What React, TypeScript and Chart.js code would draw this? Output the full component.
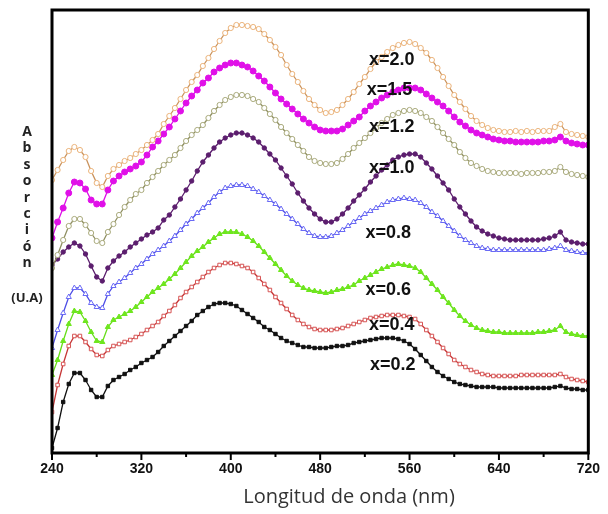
import { useEffect, useRef } from "react";
import { Chart, registerables } from "chart.js";

Chart.register(...registerables);

// Wavelength grid (nm), 5 nm step from 240 to 720
const wavelengths: number[] = Array.from({ length: 97 }, (_, i) => 240 + 5 * i);
const xTickLabels = [240, 320, 400, 480, 560, 640, 720];

// Absorbance (a.u.), 240..720 nm every 5 nm
const x20 = [
  2.73, 2.83, 2.93, 3.02, 3.06, 3.03, 2.96, 2.82, 2.70, 2.66,
  2.77, 2.84, 2.88, 2.92, 2.95, 2.99, 3.03, 3.08, 3.13, 3.19,
  3.29, 3.37, 3.45, 3.54, 3.63, 3.71, 3.78, 3.87, 3.95, 4.04,
  4.12, 4.20, 4.25, 4.28, 4.28, 4.27, 4.26, 4.24, 4.19, 4.13,
  4.06, 3.98, 3.88, 3.79, 3.71, 3.62, 3.54, 3.48, 3.43, 3.40,
  3.41, 3.43, 3.48, 3.54, 3.61, 3.69, 3.76, 3.84, 3.91, 3.96,
  4.01, 4.05, 4.08, 4.10, 4.11, 4.09, 4.05, 4.00, 3.93, 3.85,
  3.76, 3.67, 3.58, 3.51, 3.44, 3.37, 3.32, 3.28, 3.25, 3.23,
  3.22, 3.21, 3.21, 3.22, 3.21, 3.22, 3.21, 3.22, 3.22, 3.22,
  3.26, 3.29, 3.21, 3.19, 3.18, 3.17, 3.16,
];
const x15 = [
  2.15, 2.31, 2.45, 2.60, 2.71, 2.70, 2.64, 2.53, 2.49, 2.49,
  2.63, 2.72, 2.77, 2.81, 2.84, 2.87, 2.91, 2.98, 3.06, 3.12,
  3.19, 3.26, 3.34, 3.42, 3.50, 3.57, 3.63, 3.70, 3.75, 3.81,
  3.85, 3.88, 3.90, 3.90, 3.88, 3.86, 3.82, 3.77, 3.72, 3.66,
  3.60, 3.54, 3.49, 3.44, 3.39, 3.34, 3.30, 3.26, 3.23, 3.22,
  3.22, 3.22, 3.24, 3.28, 3.32, 3.36, 3.42, 3.47, 3.51, 3.55,
  3.58, 3.61, 3.63, 3.65, 3.65, 3.65, 3.63, 3.59, 3.55, 3.51,
  3.47, 3.42, 3.36, 3.31, 3.27, 3.23, 3.20, 3.18, 3.16, 3.14,
  3.13, 3.12, 3.12, 3.11, 3.11, 3.11, 3.11, 3.11, 3.12, 3.12,
  3.13, 3.16, 3.12, 3.10, 3.09, 3.08, 3.08,
];
const x12 = [
  1.85, 1.98, 2.13, 2.27, 2.34, 2.34, 2.28, 2.20, 2.12, 2.10,
  2.21, 2.29, 2.38, 2.46, 2.53, 2.59, 2.63, 2.70, 2.76, 2.82,
  2.88, 2.93, 2.98, 3.05, 3.12, 3.18, 3.23, 3.28, 3.35, 3.42,
  3.48, 3.53, 3.56, 3.58, 3.58, 3.57, 3.54, 3.51, 3.45, 3.39,
  3.33, 3.26, 3.20, 3.14, 3.08, 3.02, 2.96, 2.92, 2.90, 2.89,
  2.89, 2.90, 2.94, 2.99, 3.05, 3.10, 3.15, 3.20, 3.25, 3.30,
  3.34, 3.38, 3.40, 3.42, 3.43, 3.42, 3.40, 3.36, 3.32, 3.26,
  3.20, 3.14, 3.08, 3.01, 2.95, 2.90, 2.87, 2.84, 2.82, 2.81,
  2.80, 2.80, 2.80, 2.80, 2.79, 2.80, 2.80, 2.80, 2.81, 2.81,
  2.82, 2.86, 2.81, 2.79, 2.78, 2.77, 2.76,
];
const x10 = [
  1.88, 1.94, 2.01, 2.06, 2.10, 2.07, 1.99, 1.87, 1.76, 1.72,
  1.85, 1.92, 1.97, 2.01, 2.06, 2.10, 2.14, 2.18, 2.21, 2.25,
  2.33, 2.38, 2.46, 2.54, 2.63, 2.72, 2.82, 2.91, 2.98, 3.05,
  3.11, 3.15, 3.18, 3.20, 3.20, 3.18, 3.15, 3.11, 3.05, 2.99,
  2.93, 2.85, 2.77, 2.69, 2.60, 2.52, 2.45, 2.39, 2.34, 2.31,
  2.31, 2.34, 2.39, 2.45, 2.52, 2.58, 2.64, 2.71, 2.77, 2.83,
  2.88, 2.93, 2.96, 2.98, 2.99, 2.99, 2.96, 2.90, 2.84, 2.77,
  2.70, 2.63, 2.54, 2.46, 2.39, 2.32, 2.26, 2.22, 2.19, 2.17,
  2.15, 2.14, 2.13, 2.13, 2.13, 2.13, 2.13, 2.13, 2.14, 2.15,
  2.17, 2.21, 2.13, 2.11, 2.10, 2.09, 2.09,
];
const x08 = [
  1.05, 1.23, 1.40, 1.56, 1.65, 1.65, 1.59, 1.50, 1.46, 1.45,
  1.59, 1.67, 1.71, 1.75, 1.80, 1.85, 1.89, 1.94, 1.99, 2.03,
  2.07, 2.12, 2.17, 2.23, 2.29, 2.34, 2.40, 2.45, 2.50, 2.56,
  2.61, 2.65, 2.67, 2.68, 2.68, 2.67, 2.64, 2.61, 2.57, 2.53,
  2.49, 2.44, 2.39, 2.34, 2.29, 2.24, 2.20, 2.17, 2.16, 2.16,
  2.17, 2.20, 2.23, 2.27, 2.31, 2.35, 2.39, 2.42, 2.45, 2.48,
  2.51, 2.53, 2.54, 2.55, 2.54, 2.53, 2.50, 2.46, 2.41, 2.37,
  2.32, 2.27, 2.22, 2.17, 2.13, 2.10, 2.07, 2.05, 2.04, 2.03,
  2.03, 2.03, 2.03, 2.03, 2.03, 2.03, 2.03, 2.03, 2.03, 2.04,
  2.05, 2.07, 2.03, 2.02, 2.01, 2.00, 2.00,
];
const x06 = [
  0.78, 0.93, 1.12, 1.29, 1.42, 1.41, 1.32, 1.21, 1.12, 1.11,
  1.26, 1.33, 1.36, 1.39, 1.42, 1.46, 1.51, 1.56, 1.61, 1.65,
  1.69, 1.74, 1.79, 1.85, 1.91, 1.97, 2.02, 2.06, 2.11, 2.15,
  2.19, 2.21, 2.21, 2.21, 2.19, 2.16, 2.12, 2.07, 2.01, 1.95,
  1.89, 1.83, 1.77, 1.72, 1.68, 1.65, 1.63, 1.62, 1.61, 1.60,
  1.61, 1.63, 1.64, 1.66, 1.68, 1.72, 1.75, 1.78, 1.81, 1.84,
  1.86, 1.88, 1.89, 1.88, 1.87, 1.85, 1.81, 1.75, 1.69, 1.63,
  1.56, 1.50, 1.43, 1.37, 1.32, 1.28, 1.25, 1.23, 1.22, 1.21,
  1.21, 1.20, 1.20, 1.20, 1.20, 1.20, 1.20, 1.21, 1.21, 1.22,
  1.23, 1.27, 1.21, 1.19, 1.18, 1.17, 1.17,
];
const x04 = [
  0.41, 0.68, 0.89, 1.07, 1.17, 1.17, 1.11, 1.04, 0.98, 0.97,
  1.03, 1.07, 1.09, 1.11, 1.13, 1.16, 1.19, 1.23, 1.27, 1.31,
  1.37, 1.42, 1.48, 1.55, 1.61, 1.66, 1.71, 1.76, 1.81, 1.85,
  1.88, 1.90, 1.90, 1.89, 1.87, 1.85, 1.81, 1.75, 1.69, 1.63,
  1.56, 1.50, 1.44, 1.38, 1.33, 1.29, 1.26, 1.24, 1.23, 1.23,
  1.23, 1.24, 1.25, 1.27, 1.29, 1.31, 1.33, 1.35, 1.36, 1.37,
  1.38, 1.38, 1.38, 1.37, 1.36, 1.34, 1.29, 1.23, 1.17, 1.11,
  1.05, 0.99, 0.93, 0.89, 0.86, 0.83, 0.81, 0.79, 0.78, 0.77,
  0.77, 0.77, 0.77, 0.77, 0.78, 0.78, 0.78, 0.78, 0.78, 0.78,
  0.78, 0.79, 0.76, 0.74, 0.73, 0.72, 0.71,
];
const x02 = [
  0.05, 0.25, 0.51, 0.69, 0.80, 0.80, 0.73, 0.63, 0.56, 0.56,
  0.67, 0.73, 0.76, 0.79, 0.83, 0.86, 0.90, 0.93, 0.96, 1.01,
  1.07, 1.12, 1.17, 1.22, 1.27, 1.32, 1.38, 1.42, 1.46, 1.49,
  1.50, 1.50, 1.49, 1.47, 1.43, 1.39, 1.35, 1.31, 1.26, 1.23,
  1.19, 1.15, 1.12, 1.10, 1.08, 1.06, 1.06, 1.05, 1.05, 1.05,
  1.06, 1.07, 1.07, 1.08, 1.10, 1.11, 1.12, 1.13, 1.14, 1.15,
  1.15, 1.15, 1.14, 1.12, 1.09, 1.04, 0.98, 0.92, 0.86, 0.81,
  0.77, 0.74, 0.71, 0.69, 0.68, 0.67, 0.66, 0.66, 0.66, 0.66,
  0.65, 0.65, 0.65, 0.65, 0.65, 0.65, 0.65, 0.65, 0.65, 0.65,
  0.66, 0.67, 0.65, 0.64, 0.64, 0.63, 0.63,
];

const seriesLabels = ["x=2.0", "x=1.5", "x=1.2", "x=1.0", "x=0.8", "x=0.6", "x=0.4", "x=0.2"];
// label anchor positions (nm, a.u.)
const labelNm = [544, 542, 544, 544, 541, 541, 544, 545];
const labelAu = [3.93, 3.63, 3.26, 2.85, 2.20, 1.63, 1.28, 0.88];

const xTitle = "Longitud de onda (nm)";
const yTitleLetters = ["A", "b", "s", "o", "r", "c", "i", "ó", "n"];
const yTitleUnit = "(U.A)";

function toPoints(values: number[]) {
  const n = Math.min(values.length, wavelengths.length);
  const out: { x: number; y: number }[] = [];
  for (let i = 0; i < n; i++) out.push({ x: wavelengths[i], y: values[i] });
  return out;
}

export default function App() {
  const ref = useRef<HTMLCanvasElement | null>(null);

  useEffect(() => {
    if (!ref.current) return;

    const styles = [
      { data: x20, line: "#c9925c", point: "#ebb47c", fill: "#ffffff", style: "circle", r: 2.6 },
      { data: x15, line: "#dd10e6", point: "#e010e8", fill: "#e010e8", style: "circle", r: 3 },
      { data: x12, line: "#8f8f62", point: "#a9aa7c", fill: "#ffffff", style: "circle", r: 2.6 },
      { data: x10, line: "#5a1c6c", point: "#5c1e6e", fill: "#5c1e6e", style: "circle", r: 2.2 },
      { data: x08, line: "#4d4de6", point: "#6a6af5", fill: "#ffffff", style: "triangle", r: 3 },
      { data: x06, line: "#66dd18", point: "#6ee61e", fill: "#6ee61e", style: "triangle", r: 3 },
      { data: x04, line: "#c63636", point: "#d65252", fill: "#ffffff", style: "rect", r: 2.5 },
      { data: x02, line: "#111111", point: "#111111", fill: "#111111", style: "rect", r: 2.4 },
    ];

    const decor = {
      id: "decor",
      afterDraw(chart: any) {
        const { ctx, chartArea, scales } = chart;
        const xs = scales.x;
        const ys = scales.y;
        ctx.save();
        // frame
        ctx.strokeStyle = "#000";
        ctx.lineWidth = 3;
        ctx.strokeRect(chartArea.left, chartArea.top, chartArea.right - chartArea.left, chartArea.bottom - chartArea.top);
        // ticks
        ctx.lineWidth = 2;
        for (let v = 240; v <= 720; v += 40) {
          const px = xs.getPixelForValue(v);
          const major = (v - 240) % 80 === 0;
          ctx.beginPath();
          ctx.moveTo(px, chartArea.bottom);
          ctx.lineTo(px, chartArea.bottom + (major ? 7 : 4));
          ctx.stroke();
        }
        // series labels
        ctx.fillStyle = "#111";
        ctx.font = 'bold 18px Arial, "Liberation Sans", sans-serif';
        ctx.textAlign = "center";
        ctx.textBaseline = "middle";
        for (let i = 0; i < seriesLabels.length; i++) {
          ctx.fillText(seriesLabels[i], xs.getPixelForValue(labelNm[i]), ys.getPixelForValue(labelAu[i]));
        }
        // x title
        ctx.fillStyle = "#333";
        ctx.font = '20px "Open Sans", sans-serif';
        ctx.fillText(xTitle, 349, 497);
        // y title stacked letters
        ctx.fillStyle = "#222";
        ctx.font = 'bold 14px "Open Sans", sans-serif';
        const cx = 27;
        let y = 132;
        for (const ch of yTitleLetters) {
          ctx.fillText(ch, cx, y);
          y += 16.4;
        }
        ctx.font = 'bold 13px "Open Sans", sans-serif';
        ctx.fillText(yTitleUnit, cx, 298);
        ctx.restore();
      },
    };

    const chart = new Chart(ref.current, {
      type: "line",
      data: {
        datasets: styles.map((s, i) => ({
          label: seriesLabels[i],
          data: toPoints(s.data),
          borderColor: s.line,
          borderWidth: 1.3,
          pointStyle: s.style as any,
          pointRadius: s.r,
          pointBorderWidth: 1,
          pointBorderColor: s.point,
          pointBackgroundColor: s.fill,
          tension: 0,
          fill: false,
        })),
      },
      options: {
        animation: false,
        responsive: false,
        maintainAspectRatio: false,
        layout: { padding: { top: 10, right: 12, left: 0, bottom: 0 } },
        plugins: { legend: { display: false }, tooltip: { enabled: false } },
        scales: {
          x: {
            type: "linear",
            min: 240,
            max: 720,
            afterBuildTicks: (s: any) => {
              s.ticks = xTickLabels.map((v) => ({ value: v }));
            },
            ticks: {
              autoSkip: false,
              maxRotation: 0,
              padding: 8,
              color: "#111",
              font: { family: 'Arial, "Liberation Sans", sans-serif', size: 14, weight: "bold" },
            },
            grid: { display: false, drawTicks: false },
            border: { display: false },
            title: { display: false },
            afterFit: (s: any) => {
              s.height = 61;
            },
          },
          y: {
            type: "linear",
            min: 0,
            max: 4.43,
            ticks: { display: false },
            grid: { display: false },
            border: { display: false },
            afterFit: (s: any) => {
              s.width = 52;
            },
          },
        },
      },
      plugins: [decor],
    });

    return () => chart.destroy();
  }, []);

  return (
    <div style={{ position: "absolute", left: 0, top: 0, width: 608, height: 514, background: "#fff" }}>
      <canvas ref={ref} width={608} height={514} style={{ width: 608, height: 514 }} />
    </div>
  );
}
